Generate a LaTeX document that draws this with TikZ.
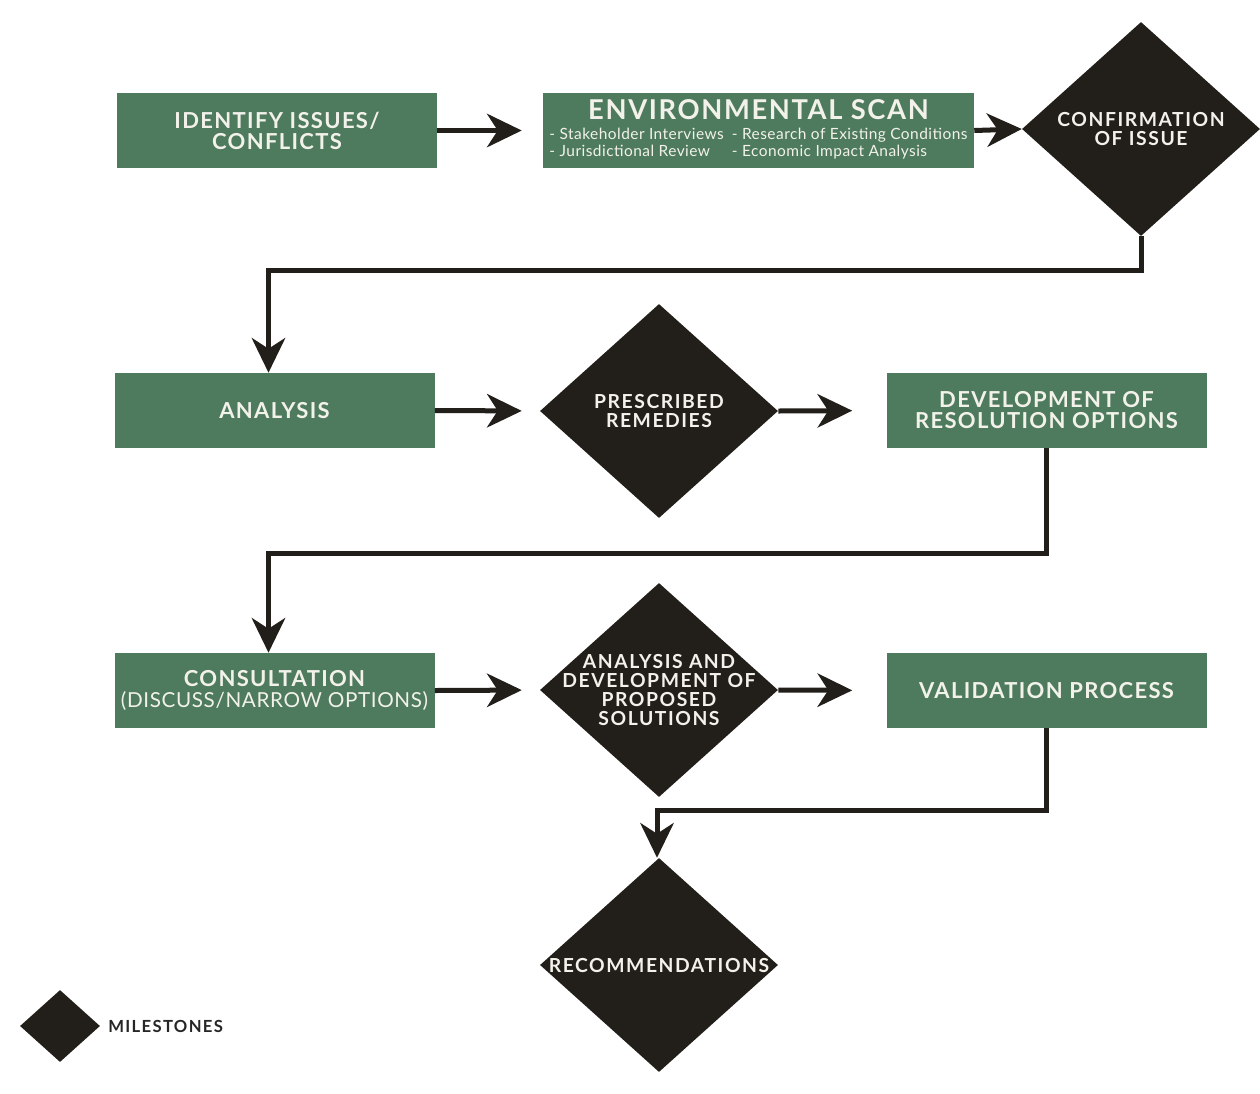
\documentclass[tikz,border=0pt]{standalone}
\usepackage{fontspec}
\setmainfont{Lato}
\newfontfamily\boxfont{Lato}[LetterSpace=6]
\newfontfamily\diafont{Lato}[LetterSpace=8]
\newfontfamily\smallfont{Lato}[LetterSpace=3]
\usetikzlibrary{shapes.geometric,arrows.meta}
\definecolor{boxgreen}{HTML}{4E7A5E}
\definecolor{milestone}{HTML}{221E19}
\definecolor{boxtext}{HTML}{F2F2EA}
\begin{document}
\begin{tikzpicture}[x=0.75pt,y=-0.75pt,
  stepbox/.style={rectangle, fill=boxgreen, minimum width=240pt, minimum height=56.25pt,
    inner sep=0pt, text=boxtext, font=\boxfont\bfseries\fontsize{16.5}{15.75}\selectfont, align=center},
  mile/.style={diamond, fill=milestone, inner sep=0pt, minimum width=178.5pt, minimum height=160.5pt},
  miletext/.style={text=boxtext, font=\diafont\bfseries\fontsize{14.5}{14.25}\selectfont, align=center},
  arr/.style={line width=3.75pt, draw=milestone, -{Stealth[length=26pt, width=25pt, inset=8pt]}},
]
\useasboundingbox[fill=white] (0,0) rectangle (1260,1093);

% row 1
\node[stepbox] (ident) at (277,130.5) {IDENTIFY ISSUES/\\CONFLICTS};
\node[stepbox, minimum width=323.25pt] (env) at (758.5,130.5)
  {{\fontsize{20.5}{20}\selectfont ENVIRONMENTAL SCAN}\\[5pt]
   {\smallfont\mdseries\fontsize{11.6}{12}\selectfont
    \begin{tabular}{@{}l@{\hspace{6pt}}l@{}}
    - Stakeholder Interviews & - Research of Existing Conditions\\[1pt]
    - Jurisdictional Review & - Economic Impact Analysis
    \end{tabular}}};
\node[mile, label={[miletext]center:CONFIRMATION\\OF ISSUE}] (conf) at (1141,129) {};

% row 2
\node[stepbox] (ana) at (274.5,410.5) {ANALYSIS};
\node[mile, label={[miletext]center:PRESCRIBED\\REMEDIES}] (pres) at (659,411) {};
\node[stepbox] (dev) at (1046.5,410.5) {DEVELOPMENT OF\\RESOLUTION OPTIONS};

% row 3
\node[stepbox] (cons) at (274.5,690.5)
  {CONSULTATION\\{\smallfont\mdseries\fontsize{15.5}{15.75}\selectfont (DISCUSS/NARROW OPTIONS)}};
\node[mile, label={[miletext]center:ANALYSIS AND\\DEVELOPMENT OF\\PROPOSED\\SOLUTIONS}] (ads) at (659,690) {};
\node[stepbox] (val) at (1046.5,690.5) {VALIDATION PROCESS};

% final
\node[mile, label={[miletext]center:RECOMMENDATIONS}] (rec) at (659,965) {};

% legend
\node[diamond, fill=milestone, inner sep=0pt, minimum width=60pt, minimum height=54pt] (legdia) at (60,1026) {};
\node[anchor=west, inner sep=0pt, text=black!85, font=\diafont\bfseries\fontsize{12.5}{12}\selectfont] (legtext) at (108,1026) {MILESTONES};

% connectors
\draw[arr, shorten >=15.75pt] (ident.east) -- (env.west);
\draw[arr] (env.east) -- (conf.west);
\draw[arr] (conf.south) -- ++(0,34) -| ([xshift=-4.5pt]ana.north);
\draw[arr, shorten >=13.5pt] (ana.east) -- (pres.west);
\draw[arr, shorten >=25.5pt] (pres.east) -- (dev.west);
\draw[arr] (dev.south) -- ++(0,105) -| ([xshift=-4.5pt]cons.north);
\draw[arr, shorten >=13.5pt] (cons.east) -- (ads.west);
\draw[arr, shorten >=25.5pt] (ads.east) -- (val.west);
\draw[arr] (val.south) -- ++(0,82) -| ([xshift=-1.5pt]rec.north);
\end{tikzpicture}
\end{document}
